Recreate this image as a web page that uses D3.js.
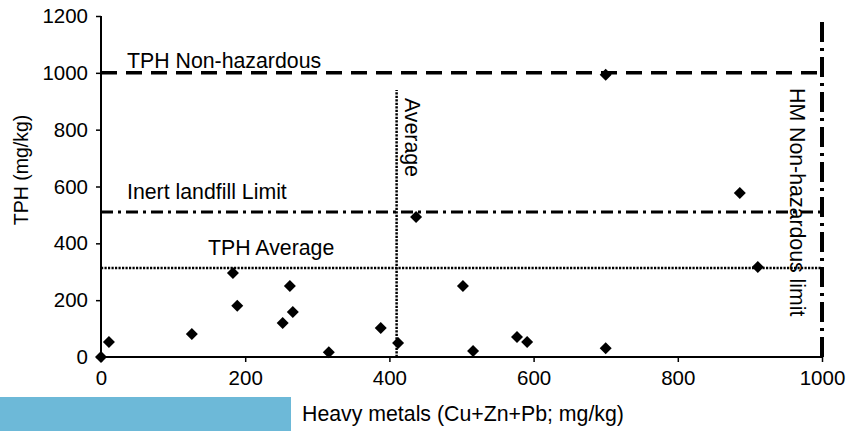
<!DOCTYPE html>
<html><head><meta charset="utf-8">
<script src="https://cdn.jsdelivr.net/npm/d3@7/dist/d3.min.js"></script>
<style>
html,body{margin:0;padding:0;background:#fff;}
svg{display:block;}
text{font-family:"Liberation Sans",Arial,Helvetica,sans-serif;fill:#000;}
</style></head><body>
<svg id="chart" width="848" height="431"></svg>
<script>
// Data
const hmValues  = [0, 11, 126, 183, 189, 252, 262, 266, 316, 388, 412, 437, 502, 516, 577, 591, 700, 700, 886, 911];
const tphValues = [0, 53, 81, 296, 180, 120, 250, 158, 17, 102, 49, 493, 250, 21, 70, 53, 31, 993, 577, 317];
const xTicks = [0, 200, 400, 600, 800, 1000];
const yTicks = [0, 200, 400, 600, 800, 1000, 1200];
const tphNonHaz = 1000;
const inertLimit = 510;
const tphAverage = 313;
const hmAverage = 410;
const hmNonHaz = 1000;
const xLabel = "Heavy metals (Cu+Zn+Pb; mg/kg)";
const yLabel = "TPH (mg/kg)";

const svg = d3.select("#chart");
const x = d3.scaleLinear().domain([0, 1000]).range([101, 822]);
const y = d3.scaleLinear().domain([0, 1200]).range([357, 16]);
const FS = 20.5;
const LFS = 21.3;

// blue bar at bottom left
svg.append("rect").attr("x", 0).attr("y", 397).attr("width", 291).attr("height", 34).attr("fill", "#6db9d8");

// axes
const xAxis = svg.append("g").attr("transform", `translate(0,${y(0)})`)
  .call(d3.axisBottom(x).tickValues(xTicks).tickSize(5).tickPadding(8).tickFormat(d3.format("d")));
const yAxis = svg.append("g").attr("transform", `translate(${x(0)},0)`)
  .call(d3.axisLeft(y).tickValues(yTicks).tickSize(5).tickPadding(8).tickFormat(d3.format("d")));
[xAxis, yAxis].forEach(a => {
  a.select(".domain").attr("stroke", "#000").attr("stroke-width", 2);
  a.selectAll(".tick line").attr("stroke", "#000").attr("stroke-width", 1.5);
  a.selectAll(".tick text").attr("font-size", FS).attr("font-family", '"Liberation Sans",Arial,sans-serif').attr("fill", "#000");
});
xAxis.select(".domain").attr("d", `M${x(0)},0H${x(1000)}`);
yAxis.select(".domain").attr("d", `M0,${y(0)}V${y(1200)}`);

// reference lines
const lines = svg.append("g").attr("fill", "none").attr("stroke", "#000");
lines.append("line").attr("x1", x(0)).attr("x2", x(1000)).attr("y1", y(tphNonHaz)).attr("y2", y(tphNonHaz))
  .attr("stroke-width", 3.5).attr("stroke-dasharray", "16,9");
lines.append("line").attr("x1", x(0)).attr("x2", x(1000)).attr("y1", y(inertLimit)).attr("y2", y(inertLimit))
  .attr("stroke-width", 3).attr("stroke-dasharray", "12,5,3,5");
lines.append("line").attr("x1", x(0)).attr("x2", x(1000)).attr("y1", y(tphAverage)).attr("y2", y(tphAverage))
  .attr("stroke-width", 2.5).attr("stroke-dasharray", "2.2,1.3");
lines.append("line").attr("x1", x(hmAverage)).attr("x2", x(hmAverage)).attr("y1", y(0)).attr("y2", y(940))
  .attr("stroke-width", 2.5).attr("stroke-dasharray", "2.2,1.3");
lines.append("line").attr("x1", x(hmNonHaz)).attr("x2", x(hmNonHaz)).attr("y1", y(0)).attr("y2", y(1193))
  .attr("stroke-width", 4).attr("stroke-dasharray", "20,6,3,6");

// points
const sym = d3.symbol(d3.symbolSquare, 72);
svg.append("g").selectAll("path").data(hmValues.map((v, i) => [v, tphValues[i]])).join("path")
  .attr("d", sym)
  .attr("transform", d => `translate(${x(d[0])},${y(d[1])}) rotate(45)`)
  .attr("fill", "#000");

// labels
function label(txt, tx, ty, rot, anchor, fs) {
  svg.append("text").attr("transform", `translate(${tx},${ty}) rotate(${rot})`)
    .attr("font-size", fs || LFS).attr("text-anchor", anchor || "start").text(txt);
}
label("TPH Non-hazardous", 127, 68, 0);
label("Inert landfill Limit", 127, 199, 0);
label("TPH Average", 208, 255, 0);
label("Average", 405, 98, 90);
label("HM Non-hazardous limit", 790, 88, 90);
label(yLabel, 28, 170, -90, "middle", 19.5);
label(xLabel, 302, 421, 0);
</script>
</body></html>
